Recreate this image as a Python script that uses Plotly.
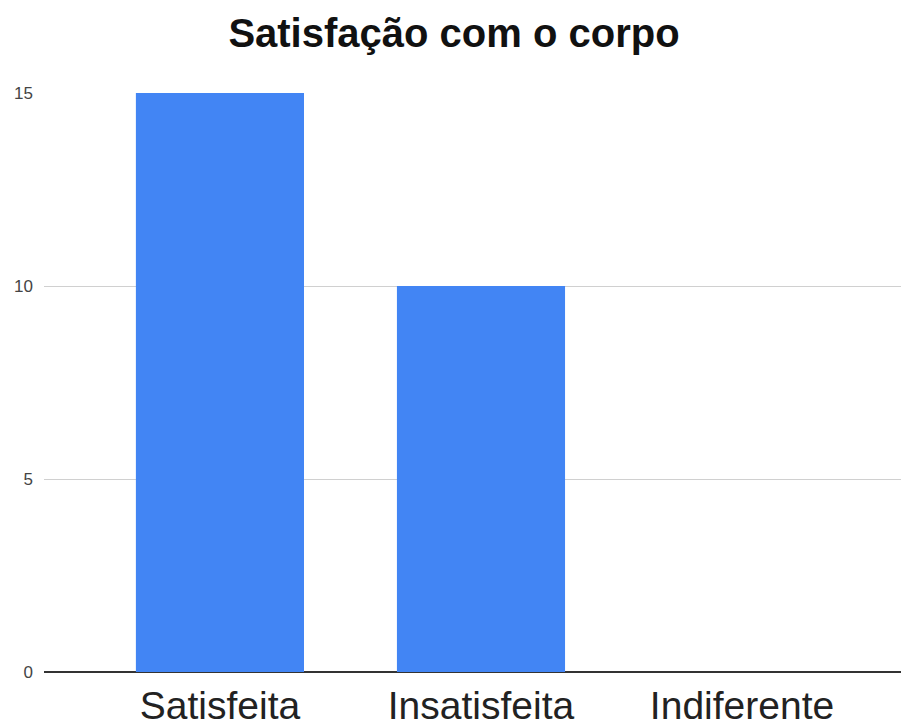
import plotly.graph_objects as go

categories = ["Satisfeita", "Insatisfeita", "Indiferente"]
counts = [15, 10, 0]
y_ticks = [0, 5, 10, 15]

fig = go.Figure(
    go.Bar(
        x=categories,
        y=counts,
        width=0.644,
        marker=dict(color="#4285F4", line=dict(width=0)),
        hoverinfo="x+y",
    )
)

fig.update_layout(
    width=901,
    height=726,
    margin=dict(l=44, r=0, t=93, b=54),
    paper_bgcolor="white",
    plot_bgcolor="white",
    showlegend=False,
    title=dict(
        text="<b>Satisfação com o corpo</b>",
        x=454 / 901,
        xanchor="center",
        xref="container",
        y=1 - 33 / 726,
        yanchor="middle",
        yref="container",
        font=dict(family="Liberation Sans, Arial, sans-serif", size=40, color="#111111"),
    ),
)

fig.update_xaxes(
    type="category",
    range=[-0.674, 2.609],
    showgrid=False,
    showline=False,
    zeroline=False,
    ticks="",
    ticklabelstandoff=7,
    tickfont=dict(family="Liberation Sans, Arial, sans-serif", size=39, color="#222222"),
)

fig.update_yaxes(
    range=[0, 15],
    tickvals=y_ticks,
    ticktext=[str(v) for v in y_ticks],
    showgrid=True,
    gridcolor="#d0d0d0",
    gridwidth=1,
    zeroline=True,
    zerolinecolor="#333333",
    zerolinewidth=2,
    showline=False,
    ticks="",
    ticklabelstandoff=10,
    tickfont=dict(family="Liberation Sans, Arial, sans-serif", size=17, color="#444444"),
)

fig.write_html("out.html")
